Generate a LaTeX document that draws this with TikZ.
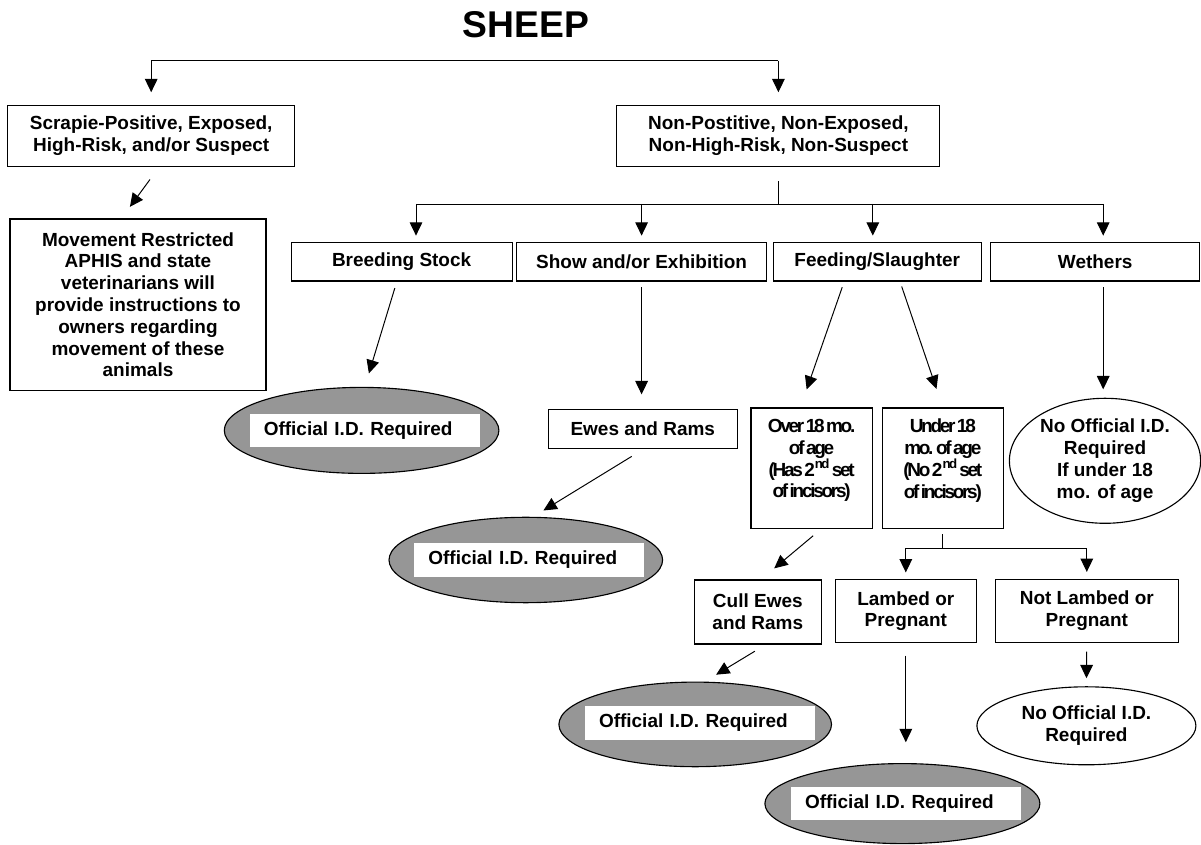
\documentclass[tikz,border=0pt]{standalone}
\usepackage{fontspec}
\setmainfont{Liberation Sans}
\newfontfamily\tightfam{Liberation Sans}[LetterSpace=-12,WordSpace=0.5]
\usetikzlibrary{shapes.geometric,arrows.meta,calc}
\definecolor{idgray}{RGB}{150,150,150}
\newcommand{\bodyfont}{\fontsize{13.5}{15.5}\selectfont\bfseries}
\newcommand{\tightfont}{\tightfam\bodyfont}
\tikzset{
  box/.style={draw,line width=.8pt,align=center,inner sep=0pt,font=\bodyfont},
  idoval/.style={ellipse,draw,line width=.8pt,fill=idgray,inner sep=0pt},
  noidoval/.style={ellipse,draw,line width=.8pt,align=center,inner sep=0pt,font=\bodyfont},
  idlab/.style={fill=white,inner xsep=.35cm,inner ysep=0pt,text width=5.05cm,minimum height=.835cm,align=left,font=\bodyfont},
  arr/.style={-{Triangle[length=9.5pt,width=9pt]},line width=.7pt}
}

\begin{document}
\begin{tikzpicture}
      %\draw[step=1cm,gray,very thin] (0,0) grid (30,21);
      \useasboundingbox (0,0) rectangle (30.025,21.1);
      \node[font=\fontsize{26.5}{30}\selectfont\bfseries] (title) at (13.15,20.475) {SHEEP};
      \node[box,minimum width=7.175cm,minimum height=1.52cm] (scr) at (3.78,17.7) {Scrapie-Positive, Exposed,\\High-Risk, and/or Suspect};
      \node[box,minimum width=8.075cm,minimum height=1.52cm] (nonpos) at (19.46,17.7) {Non-Postitive, Non-Exposed,\\Non-High-Risk, Non-Suspect};
      \node[box,minimum width=6.4cm,minimum height=4.29cm] (move) at (3.45,13.48) {Movement Restricted\\APHIS and state\\veterinarians will\\provide instructions to\\owners regarding\\movement of these\\animals};
      % second row
      \node[box,minimum width=5.525cm,minimum height=.97cm] (breed) at (10.04,14.56) {Breeding Stock};
      \node[box,minimum width=6.24cm,minimum height=.97cm] (show) at (16.04,14.56) {Show and/or Exhibition};
      \node[box,minimum width=5.2cm,minimum height=.97cm] (feed) at (21.93,14.56) {Feeding/Slaughter};
      \node[box,minimum width=5.23cm,minimum height=.97cm] (weth) at (27.38,14.56) {Wethers};
      % third row
      \node[idoval,minimum width=6.865cm,minimum height=2.15cm] (id1) at (9.04,10.34) {};
      \node[idlab] (lab1) at ([xshift=.08cm]id1.center) {Official I.D. Required};
      \node[box,minimum width=4.725cm,minimum height=.975cm] (ewes) at (16.07,10.38) {Ewes and Rams};
      \node[box,font=\tightfont,minimum width=3.03cm,minimum height=3.02cm] (over) at (20.29,9.39) {Over 18 mo.\\of age\\(Has 2\textsuperscript{nd} set\\of incisors)\\[-1.5pt]\mbox{}};
      \node[box,font=\tightfont,minimum width=3.025cm,minimum height=3.02cm] (under) at (23.57,9.39) {Under 18\\mo. of age\\(No 2\textsuperscript{nd} set\\of incisors)\\[-1.5pt]\mbox{}};
      \node[noidoval,minimum width=4.78cm,minimum height=3.125cm] (wid) at (27.625,9.58) {No Official I.D.\\Required\\If under 18\\mo. of age};
      \node[idoval,minimum width=6.84cm,minimum height=2.135cm] (id2) at (13.145,7.1) {};
      \node[idlab] (lab2) at ([xshift=.09cm]id2.center) {Official I.D. Required};
      % fourth row
      \node[box,minimum width=3.175cm,minimum height=1.6cm] (cull) at (18.945,5.8) {Cull Ewes\\and Rams};
      \node[box,minimum width=3.525cm,minimum height=1.57cm] (lamb) at (22.645,5.82) {Lambed or\\Pregnant};
      \node[box,minimum width=4.57cm,minimum height=1.585cm] (notl) at (27.17,5.825) {Not Lambed or\\Pregnant};
      \node[idoval,minimum width=6.815cm,minimum height=2.115cm] (id3) at (17.38,2.99) {};
      \node[idlab] (lab3) at ([xshift=.12cm,yshift=.04cm]id3.center) {Official I.D. Required};
      \node[noidoval,minimum width=5.475cm,minimum height=1.95cm] (noid) at (27.16,2.955) {No Official I.D.\\Required};
      \node[idoval,minimum width=6.875cm,minimum height=2cm] (id4) at (22.56,1.01) {};
      \node[idlab] (lab4) at ([xshift=.09cm]id4.center) {Official I.D. Required};
      % connectors
      \coordinate (topbar) at (0,19.58);
      \coordinate (bar) at (0,16);
      \coordinate (split) at (0,7.39);
      \draw[arr,shorten >=.32cm] (topbar -| nonpos) -| (scr);
      \draw[arr,shorten >=.32cm] (topbar -| nonpos) -- (nonpos);
      \draw[arr,shorten <=.39cm,shorten >=.36cm] ([xshift=.2cm]scr.south) -- ([xshift=-.415cm]move.north);
      \draw[line width=.7pt] ([yshift=-.36cm]nonpos.south) -- (nonpos.south |- bar);
      \draw[line width=.7pt] ($(breed.north |- bar)+(.36,0)$) -- ($(weth.north |- bar)+(.2,0)$);
      \foreach \n/\dx in {breed/.36,show/0,feed/-.11,weth/.2}
        \draw[arr,shorten >=.15cm] ($(\n.north |- bar)+(\dx,0)$) -- ($(\n.north)+(\dx,0)$);
      \draw[arr,shorten <=.17cm,shorten >=.35cm] ([xshift=-.12cm]breed.south) -- ([xshift=.08cm]id1.north);
      \draw[arr,shorten <=.14cm,shorten >=.36cm] (show.south) -- (show.south |- ewes.north);
      \draw[arr,shorten <=.36cm,shorten >=.3cm] ([xshift=.03cm]ewes.south) -- ([xshift=.185cm]id2.north);
      \draw[arr,shorten <=.15cm,shorten >=.475cm] ([xshift=-.825cm]feed.south) -- ([xshift=-.28cm]over.north);
      \draw[arr,shorten <=.13cm,shorten >=.49cm] ([xshift=.57cm]feed.south) -- (under.north);
      \draw[arr,shorten <=.14cm,shorten >=.21cm] ([xshift=.2cm]weth.south) -- ([xshift=.2cm]weth.south |- wid.north);
      \draw[arr,shorten <=.25cm,shorten >=.43cm] ([xshift=.23cm]over.south) -- ([xshift=.08cm]cull.north);
      \draw[line width=.7pt] ([yshift=-.12cm]under.south) -- (under.south |- split);
      \draw[arr,shorten >=.17cm] (under.south |- split) -| (lamb);
      \draw[arr,shorten >=.17cm] (under.south |- split) -| (notl);
      \draw[arr,shorten <=.32cm,shorten >=.33cm] ([xshift=.2cm]cull.south) -- ([xshift=.24cm]id3.north);
      \draw[arr,shorten <=.31cm,shorten >=.52cm] (lamb.south) -- (lamb.south |- id4.north);
      \draw[arr,shorten <=.21cm,shorten >=.2cm] (notl.south) -- (noid.north);
\end{tikzpicture}
\end{document}
